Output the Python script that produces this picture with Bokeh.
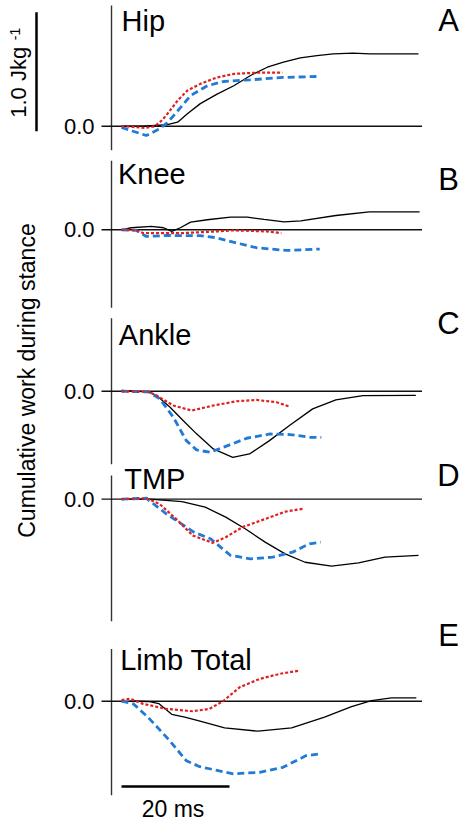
import numpy as np
from bokeh.plotting import figure
from bokeh.models import Range1d
from bokeh.core.properties import value
from bokeh.embed import file_html
from bokeh.resources import INLINE

# ---------------- data (time in ms, cumulative work in J/kg) ----------------
panel_titles = ["Hip", "Knee", "Ankle", "TMP", "Limb Total"]
panel_letters = ["A", "B", "C", "D", "E"]
zero_label = "0.0"

hip_black_t = [0, 4, 8.5, 10.4, 12.2, 14.6, 17.7, 20.8, 23.9, 27, 30, 33.1, 36.2, 39.2, 42.9, 46, 55]
hip_black_y = [0, 0, 0.014, 0.034, 0.104, 0.19, 0.27, 0.34, 0.426, 0.496, 0.538, 0.574, 0.594, 0.608, 0.614, 0.608, 0.608]
hip_red_t = [0, 2, 4.3, 6.2, 7.5, 8.5, 10.4, 12.2, 14.6, 17.7, 20.8, 25.1, 29.8]
hip_red_y = [0, -0.005, -0.015, 0, 0.05, 0.104, 0.216, 0.30, 0.356, 0.41, 0.44, 0.45, 0.45]
hip_blue_t = [0, 2, 4.6, 7.1, 8.5, 11, 12.8, 15.9, 18.9, 23.8, 29.9, 36.1]
hip_blue_y = [-0.01, -0.04, -0.078, -0.02, 0.03, 0.16, 0.258, 0.34, 0.376, 0.39, 0.41, 0.418]

knee_black_t = [0, 1.8, 5.5, 7.8, 9.3, 10.9, 12.8, 15.9, 20.2, 23.3, 26.4, 30.1, 33.2, 39.7, 45.9, 55.2]
knee_black_y = [0, 0.017, 0.028, 0.017, -0.014, 0.017, 0.064, 0.084, 0.106, 0.106, 0.087, 0.067, 0.075, 0.12, 0.151, 0.151]
knee_red_t = [0, 2.7, 4, 11.4, 17.6, 20.7, 26.9, 29.6]
knee_red_y = [0, -0.005, -0.028, -0.028, -0.014, -0.005, -0.014, -0.028]
knee_blue_t = [0, 2.7, 4.6, 8.3, 14.5, 17.6, 20.7, 25, 30.6, 36.7]
knee_blue_y = [0, -0.005, -0.056, -0.048, -0.05, -0.067, -0.104, -0.151, -0.174, -0.162]

ankle_black_t = [0, 5, 6.5, 9, 11.4, 13.9, 17, 20.6, 23.7, 27.4, 31.1, 35.4, 39.7, 44.7, 54.5]
ankle_black_y = [0.008, -0.005, -0.036, -0.134, -0.246, -0.358, -0.485, -0.555, -0.527, -0.415, -0.288, -0.148, -0.073, -0.036, -0.034]
ankle_red_t = [0, 5, 6.5, 9.6, 13, 17, 21.3, 25, 28.7, 31.1]
ankle_red_y = [0, -0.005, -0.036, -0.12, -0.162, -0.12, -0.084, -0.073, -0.092, -0.129]
ankle_blue_t = [0, 5, 7.1, 9.6, 12, 13.9, 16.4, 18.9, 23.2, 27.5, 31.2, 34.9, 37]
ankle_blue_y = [0, -0.005, -0.064, -0.218, -0.415, -0.493, -0.513, -0.47, -0.395, -0.359, -0.364, -0.387, -0.387]

tmp_black_t = [0, 5.2, 11.2, 15.5, 19.3, 22.9, 26.6, 30.3, 34, 38.9, 43.9, 48.8, 55]
tmp_black_y = [0, 0, -0.02, -0.067, -0.151, -0.249, -0.361, -0.46, -0.53, -0.563, -0.535, -0.487, -0.473]
tmp_red_t = [0, 4.6, 7, 10.1, 13.2, 16.9, 19.3, 22.4, 26.7, 30.4, 33.6]
tmp_red_y = [0, 0.008, -0.039, -0.165, -0.305, -0.367, -0.32, -0.235, -0.165, -0.104, -0.081]
tmp_blue_t = [0, 4.6, 8.3, 13.4, 16.5, 20.2, 23.9, 28, 31.7, 34.8, 36.9]
tmp_blue_y = [0, 0.008, -0.123, -0.277, -0.333, -0.473, -0.501, -0.487, -0.445, -0.375, -0.361]

limb_black_t = [1.5, 3, 5.2, 6.9, 9.3, 11.7, 14.2, 19.1, 25.3, 31.5, 37.6, 42.6, 46.3, 50, 54.6]
limb_black_y = [0, 0, -0.003, -0.02, -0.11, -0.134, -0.162, -0.224, -0.252, -0.224, -0.134, -0.045, 0.006, 0.028, 0.028]
limb_red_t = [0, 1.6, 4, 8.3, 13.2, 16.3, 18.8, 21.9, 25.6, 29.3, 33]
limb_red_y = [0.01, 0.02, -0.022, -0.064, -0.084, -0.064, 0, 0.118, 0.188, 0.23, 0.258]
limb_blue_t = [0, 2.2, 5.2, 8.9, 12, 14.5, 20.7, 25.6, 29.9, 34.2, 36.7]
limb_blue_y = [0, -0.022, -0.148, -0.33, -0.5, -0.55, -0.61, -0.597, -0.555, -0.457, -0.443]

scale_work = 1.0   # J/kg scale bar
scale_time = 20    # ms scale bar

# ---------------- layout (data units) ----------------
FONT = value("Liberation Sans")
offsets = [5.851, 4.981, 3.624, 2.717, 1.019]          # zero-line position of each panel
axis_top = [1.014, 0.58, 0.613, 0.20, 0.44]
axis_bot = [-0.202, -0.655, -0.613, -1.025, -0.79]
title_x = [0.0, -0.65, -0.5, 0.5, -0.25]
title_dy = [0.884, 0.470, 0.476, 0.166, 0.350]
letter_dy = [0.888, 0.423, 0.573, 0.203, 0.552]
AX_X = -1.85
ZERO_X0, ZERO_X1 = -3.7, 55.65

blacks = [(hip_black_t, hip_black_y), (knee_black_t, knee_black_y), (ankle_black_t, ankle_black_y),
          (tmp_black_t, tmp_black_y), (limb_black_t, limb_black_y)]
reds = [(hip_red_t, hip_red_y), (knee_red_t, knee_red_y), (ankle_red_t, ankle_red_y),
        (tmp_red_t, tmp_red_y), (limb_red_t, limb_red_y)]
blues = [(hip_blue_t, hip_blue_y), (knee_blue_t, knee_blue_y), (ankle_blue_t, ankle_blue_y),
         (tmp_blue_t, tmp_blue_y), (limb_blue_t, limb_blue_y)]

p = figure(width=465, height=822, output_backend="svg", toolbar_location=None,
           x_range=Range1d(-22.407, 63.704), y_range=Range1d(0, 6.9076),
           x_axis_location=None, y_axis_location=None, min_border=0,
           outline_line_color=None, background_fill_color="white", border_fill_color="white")
p.xgrid.visible = False
p.ygrid.visible = False

for i in range(5):
    off = offsets[i]
    # vertical axis of panel
    p.segment(x0=[AX_X], y0=[off + axis_bot[i]], x1=[AX_X], y1=[off + axis_top[i]],
              line_color="#333333", line_width=1.4)
    # zero line (also tick)
    p.segment(x0=[ZERO_X0], y0=[off], x1=[ZERO_X1], y1=[off], line_color="#111111", line_width=1.3)
    p.text(x=[-5.0], y=[off], text=[zero_label], text_font=FONT, text_font_size="22px",
           text_align="right", text_baseline="middle", text_color="black")
    # curves
    bt, by = blacks[i]
    p.line(bt, np.array(by) + off, line_color="black", line_width=1.3)
    bt, by = blues[i]
    p.line(bt, np.array(by) + off, line_color="#1f7ad8", line_width=2.8, line_dash="7 4")
    rt, ry = reds[i]
    p.line(rt, np.array(ry) + off, line_color="#e02020", line_width=2.2, line_dash="3 2")
    # titles and letters
    p.text(x=[title_x[i]], y=[off + title_dy[i]], text=[panel_titles[i]], text_font=FONT,
           text_font_size="29px", text_align="left", text_baseline="middle", text_color="black")
    p.text(x=[60.56], y=[off + letter_dy[i]], text=[panel_letters[i]], text_font=FONT,
           text_font_size="31px", text_align="center", text_baseline="middle", text_color="black")

# vertical work scale bar
p.segment(x0=[-15.74], y0=[offsets[0] - 0.042], x1=[-15.74], y1=[offsets[0] - 0.042 + scale_work],
          line_color="black", line_width=2.5)
p.text(x=[-19.07], y=[offsets[0] + 0.071], text=["1.0 Jkg"], angle=np.pi / 2, text_font=FONT,
       text_font_size="22px", text_align="left", text_baseline="middle", text_color="black")
p.text(x=[-19.81], y=[offsets[0] + 0.723], text=["-1"], angle=np.pi / 2, text_font=FONT,
       text_font_size="14px", text_align="left", text_baseline="middle", text_color="black")

# y label
p.text(x=[-17.46], y=[3.714], text=["Cumulative work during stance"], angle=np.pi / 2, text_font=FONT,
       text_font_size="23px", text_align="center", text_baseline="middle", text_color="black")

# time scale bar
p.segment(x0=[0], y0=[offsets[4] - 0.717], x1=[scale_time], y1=[offsets[4] - 0.717],
          line_color="black", line_width=2.5)
p.text(x=[9.54], y=[offsets[4] - 0.906], text=["%d ms" % scale_time], text_font=FONT,
       text_font_size="23px", text_align="center", text_baseline="middle", text_color="black")

open("out.html", "w").write(file_html(p, INLINE))
